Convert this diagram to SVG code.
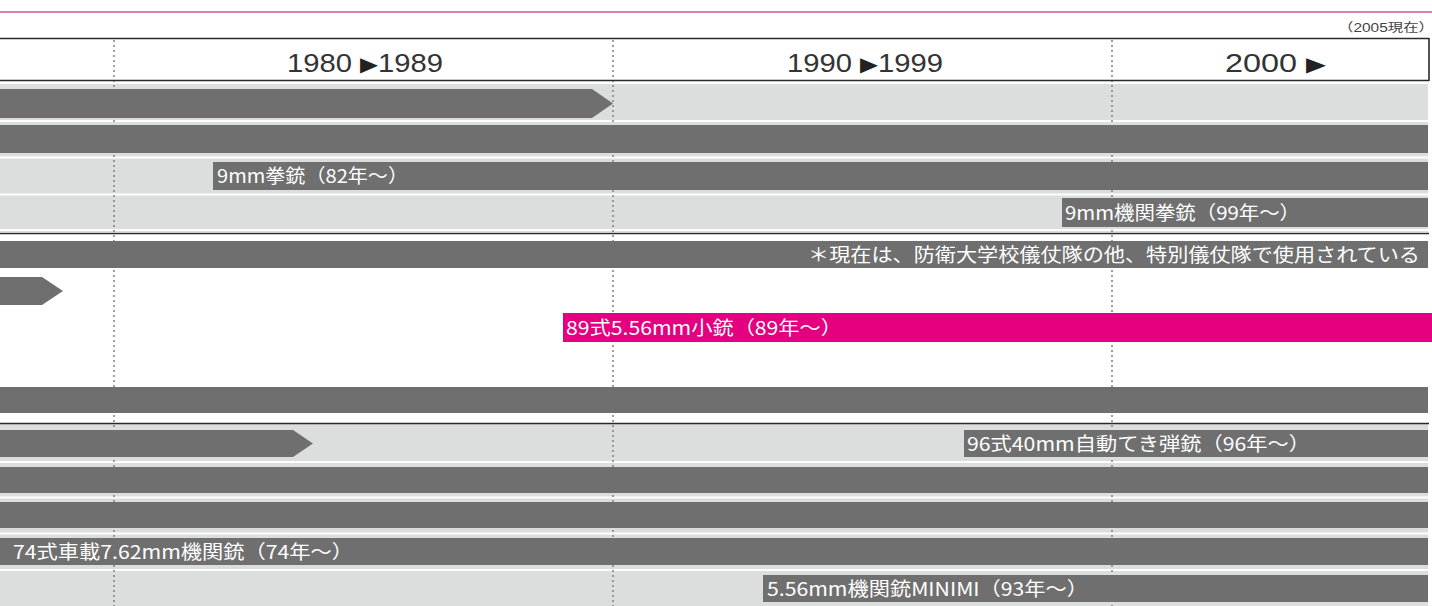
<svg xmlns="http://www.w3.org/2000/svg" width="1432" height="606" viewBox="0 0 1432 606">
<style>
.bar{fill:#6f6f6f}
.pink{fill:#e4007f}
.lbl{font-family:"Noto Sans CJK JP","Noto Sans",sans-serif;font-size:19px;fill:#ffffff}
.hdr{font-family:"Liberation Sans","DejaVu Sans",sans-serif;font-size:25px;fill:#333333}
.tri{font-size:20px;fill:#222222}
.note{font-family:"Liberation Sans","Noto Sans CJK JP",sans-serif;font-size:12px;fill:#444444}
.grid{stroke:#808080;stroke-width:1.5;stroke-dasharray:2 3;fill:none}
.sep{stroke:#ffffff;stroke-width:2}
.rule{stroke:#2a2a2a;stroke-width:1.6;fill:none}
.bg{fill:#dcdddd}
</style>
<rect width="1432" height="606" fill="#ffffff"/>
<line x1="0" y1="12" x2="1432" y2="12" stroke="#d05a9e" stroke-width="1.6"/>
<text class="note" x="1338" y="32" textLength="96" lengthAdjust="spacingAndGlyphs">（2005現在）</text>

<g id="backgrounds">
<rect class="bg" x="0" y="84" width="1428" height="148"/>
<rect class="bg" x="0" y="424" width="1428" height="182"/>
<line class="sep" x1="0" y1="121" x2="1428" y2="121"/>
<line class="sep" x1="0" y1="157.5" x2="1428" y2="157.5"/>
<line class="sep" x1="0" y1="194.5" x2="1428" y2="194.5"/>
<line class="sep" x1="0" y1="230" x2="1428" y2="230"/>
<line class="sep" x1="0" y1="462" x2="1428" y2="462"/>
<line class="sep" x1="0" y1="497.5" x2="1428" y2="497.5"/>
<line class="sep" x1="0" y1="533.5" x2="1428" y2="533.5"/>
<line class="sep" x1="0" y1="570" x2="1428" y2="570"/>
</g>

<g id="gridlines">
<line class="grid" x1="114" y1="40" x2="114" y2="606"/>
<line class="grid" x1="613" y1="40" x2="613" y2="606"/>
<line class="grid" x1="1112" y1="40" x2="1112" y2="606"/>
</g>

<g id="header">
<line class="rule" x1="0" y1="38.5" x2="1429" y2="38.5"/>
<line class="rule" x1="0" y1="80.5" x2="1429" y2="80.5"/>
<line class="rule" x1="1429" y1="38" x2="1429" y2="81"/>
<text class="hdr" x="287" y="72" textLength="156" lengthAdjust="spacingAndGlyphs">1980 <tspan class="tri" dy="-1">▶</tspan><tspan dy="1">1989</tspan></text>
<text class="hdr" x="787" y="72" textLength="156" lengthAdjust="spacingAndGlyphs">1990 <tspan class="tri" dy="-1">▶</tspan><tspan dy="1">1999</tspan></text>
<text class="hdr" x="1225" y="72" textLength="101" lengthAdjust="spacingAndGlyphs">2000 <tspan class="tri" dy="-1">▶</tspan></text>
</g>

<g id="rules">
<line class="rule" x1="0" y1="233.5" x2="1429" y2="233.5"/>
<line class="rule" x1="0" y1="423.5" x2="1429" y2="423.5"/>
</g>

<g id="row1"><polygon class="bar" points="0,89 592,89 613,103.5 592,118 0,118"/></g>
<g id="row2"><rect class="bar" x="0" y="125" width="1428" height="28"/></g>
<g id="row3"><rect class="bar" x="213" y="162" width="1215" height="28"/>
<text class="lbl" x="217" y="183" textLength="191" lengthAdjust="spacingAndGlyphs">9mm拳銃（82年～）</text></g>
<g id="row4"><rect class="bar" x="1062" y="198" width="366" height="29"/>
<text class="lbl" x="1065" y="220" textLength="235" lengthAdjust="spacingAndGlyphs">9mm機関拳銃（99年～）</text></g>
<g id="row5"><rect class="bar" x="0" y="241" width="1428" height="27"/>
<text class="lbl" x="808" y="262" textLength="612" lengthAdjust="spacingAndGlyphs">＊現在は、防衛大学校儀仗隊の他、特別儀仗隊で使用されている</text></g>
<g id="row6"><polygon class="bar" points="0,277 42,277 63,291 42,305 0,305"/></g>
<g id="row7"><rect class="pink" x="563" y="313" width="869" height="29"/>
<text class="lbl" x="566" y="335" textLength="276" lengthAdjust="spacingAndGlyphs">89式5.56mm小銃（89年～）</text></g>
<g id="row8"><rect class="bar" x="0" y="387" width="1428" height="26"/></g>
<g id="row9a"><polygon class="bar" points="0,430 293,430 313,443.5 293,457 0,457"/></g>
<g id="row9b"><rect class="bar" x="964" y="430" width="464" height="27"/>
<text class="lbl" x="967" y="451" textLength="343" lengthAdjust="spacingAndGlyphs">96式40mm自動てき弾銃（96年～）</text></g>
<g id="row10"><rect class="bar" x="0" y="467" width="1428" height="26"/></g>
<g id="row11"><rect class="bar" x="0" y="502" width="1428" height="26"/></g>
<g id="row12"><rect class="bar" x="0" y="538" width="1428" height="27"/>
<text class="lbl" x="13" y="559" textLength="340" lengthAdjust="spacingAndGlyphs">74式車載7.62mm機関銃（74年～）</text></g>
<g id="row13"><rect class="bar" x="763" y="575" width="665" height="27"/>
<text class="lbl" x="767" y="596" textLength="321" lengthAdjust="spacingAndGlyphs">5.56mm機関銃MINIMI（93年～）</text></g>
</svg>
